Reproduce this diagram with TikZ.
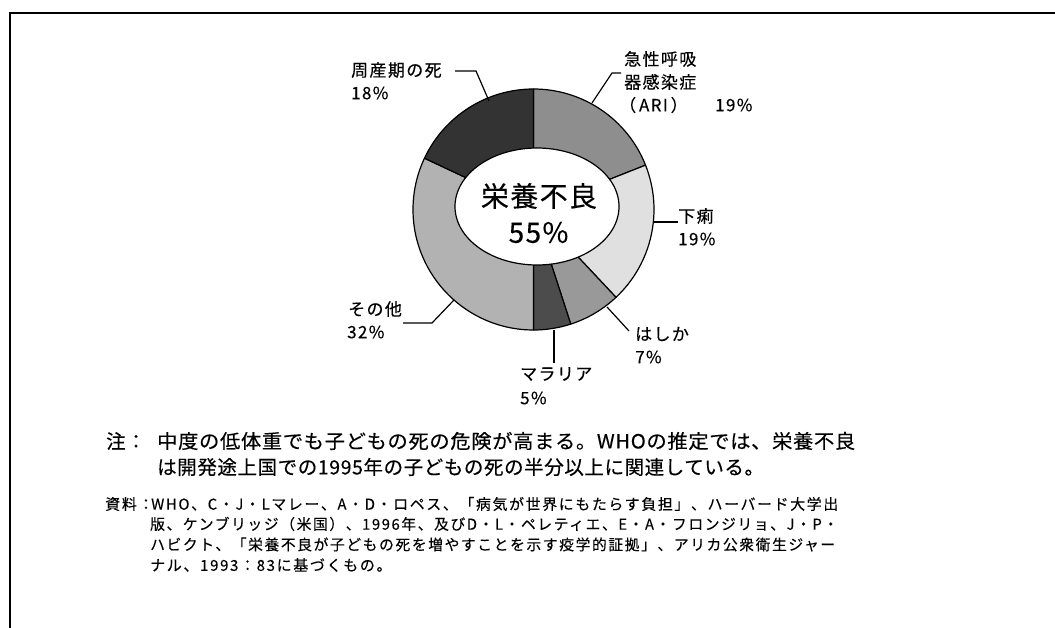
\documentclass[tikz,border=0pt]{standalone}
\usepackage{fontspec}
\usepackage{graphicx}
\setmainfont{Noto Sans CJK JP}
\newfontfamily\labf[LetterSpace=8,FakeBold=0.3]{Noto Sans CJK JP}
\newfontfamily\notef[LetterSpace=3,FakeBold=0.3]{Noto Sans CJK JP}
\newfontfamily\srcf[LetterSpace=11,FakeBold=0.2]{Noto Sans CJK JP}
\newfontfamily\midf[LetterSpace=5,FakeBold=0.3]{Noto Sans CJK JP}
\usetikzlibrary{shapes.geometric}
\definecolor{cari}{HTML}{8E8E8E}
\definecolor{cdia}{HTML}{E0E0E0}
\definecolor{cmea}{HTML}{999999}
\definecolor{cmal}{HTML}{4C4C4C}
\definecolor{coth}{HTML}{B2B2B2}
\definecolor{cper}{HTML}{333333}
\tikzset{
  lab/.style={anchor=west, inner sep=0pt, font=\labf\fontsize{17}{20}\selectfont},
  midtxt/.style={inner sep=0pt, font=\midf\fontsize{28}{32}\selectfont},
  lead/.style={line width=1.2pt, draw=black, line join=miter},
  wedge/.style={draw=black, line width=1.2pt, line join=round},
  note/.style={anchor=west, inner sep=0pt, font=\notef\fontsize{19.5}{24}\selectfont},
  src/.style={anchor=west, inner sep=0pt, font=\srcf\fontsize{15}{18}\selectfont},
}
\begin{document}
\begin{tikzpicture}[x=1pt,y=-1pt]
\fill[white] (0,0) rectangle (1055,628);
\useasboundingbox (0,0) rectangle (1055,628);
% frame
\draw[line width=2pt] (9.5,628) -- (9.5,13.5) -- (1055,13.5);
% donut
\coordinate (C) at (533.5,209.5);
\filldraw[wedge, fill=cari] (C) -- ++(90:120.5pt) arc[start angle=90, end angle=21.6, radius=120.5pt] -- cycle;
\filldraw[wedge, fill=cdia] (C) -- ++(21.6:120.5pt) arc[start angle=21.6, end angle=-46.8, radius=120.5pt] -- cycle;
\filldraw[wedge, fill=cmea] (C) -- ++(-46.8:120.5pt) arc[start angle=-46.8, end angle=-72, radius=120.5pt] -- cycle;
\filldraw[wedge, fill=cmal] (C) -- ++(-72:120.5pt) arc[start angle=-72, end angle=-90, radius=120.5pt] -- cycle;
\filldraw[wedge, fill=coth] (C) -- ++(-90:120.5pt) arc[start angle=-90, end angle=-205.2, radius=120.5pt] -- cycle;
\filldraw[wedge, fill=cper] (C) -- ++(154.8:120.5pt) arc[start angle=154.8, end angle=90, radius=120.5pt] -- cycle;
\node[ellipse, draw=black, fill=white, line width=1.2pt, minimum width=164pt, minimum height=117pt, inner sep=0pt] (mid) at (537,206.5) {};
\node[midtxt] (midA) at (539,196) {栄養不良};
\node[midtxt] (midB) at (538.5,232.5) {55\%};
% labels
\node[lab] (per1) at (351,70) {周産期の死};
\node[lab] (per2) at (351,93) {18\%};
\node[lab] (ari1) at (624,59) {急性呼吸};
\node[lab] (ari2) at (624,82) {器感染症};
\node[lab] (ari3) at (619,105) {（\,ARI\,）};
\node[lab] (ari4) at (715,105) {19\%};
\node[lab] (dia1) at (678,216) {下痢};
\node[lab] (dia2) at (678,239) {19\%};
\node[lab] (mea1) at (635,334) {はしか};
\node[lab] (mea2) at (635,357) {7\%};
\node[lab] (mal1) at (520,374) {マラリア};
\node[lab] (mal2) at (520,398) {5\%};
\node[lab] (oth1) at (348,309) {その他};
\node[lab] (oth2) at (347,332) {32\%};
% leader coordinates
\coordinate (perA) at (455,71); \coordinate (perB) at (476,71); \coordinate (perC) at (489,101);
\coordinate (ariA) at (621,73); \coordinate (ariB) at (612,73); \coordinate (ariC) at (592,103);
\coordinate (diaA) at (654,222); \coordinate (diaB) at (678,222);
\coordinate (meaA) at (607,307); \coordinate (meaB) at (629,331);
\coordinate (malA) at (554,330); \coordinate (malB) at (554,363);
\coordinate (othA) at (403,323); \coordinate (othB) at (432,323); \coordinate (othC) at (454,300);
\draw[lead] (perA) -- (perB) -- (perC);
\draw[lead] (ariA) -- (ariB) -- (ariC);
\draw[lead] (diaA) -- (diaB);
\draw[lead] (meaA) -- (meaB);
\draw[lead] (malA) -- (malB);
\draw[lead] (othA) -- (othB) -- (othC);
% note
\node[note] (note0) at (106,441) {注：};
\node[note] (note1) at (157,441) {\resizebox{698pt}{\height}{中度の低体重でも子どもの死の危険が高まる。WHOの推定では、栄養不良}};
\node[note] (note2) at (157,467) {は開発途上国での1995年の子どもの死の半分以上に関連している。};
% source
\node[src] (src0) at (105,504) {資料：};
\node[src] (src1) at (151,504) {\resizebox{687pt}{\height}{WHO、C・J・Lマレー、A・D・ロペス、「病気が世界にもたらす負担」、ハーバード大学出}};
\node[src] (src2) at (150,524) {\resizebox{688pt}{\height}{版、ケンブリッジ（米国）、1996年、及びD・L・ペレティエ、E・A・フロンジリョ、J・P・}};
\node[src] (src3) at (150,544.5) {\resizebox{685pt}{\height}{ハビクト、「栄養不良が子どもの死を増やすことを示す疫学的証拠」、アリカ公衆衛生ジャー}};
\node[src] (src4) at (150,565) {ナル、1993：83に基づくもの。};
\end{tikzpicture}
\end{document}
